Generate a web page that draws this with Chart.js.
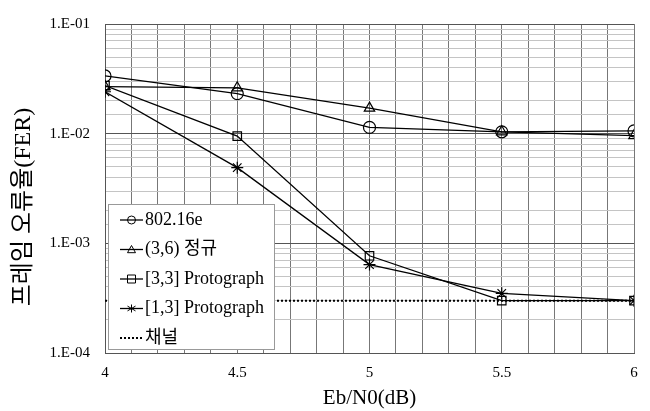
<!DOCTYPE html>
<html>
<head>
<meta charset="utf-8">
<script src="https://cdn.jsdelivr.net/npm/chart.js@4/dist/chart.umd.min.js"></script>
<style>
  html, body { margin: 0; padding: 0; background: #fff; }
  #box { width: 650px; height: 411px; }
</style>
</head>
<body>
<div id="box"><canvas id="myChart"></canvas></div>
<script>
const ebn0 = [4, 4.5, 5, 5.5, 6];
const fer80216e = [0.0336, 0.0232, 0.0114, 0.0104, 0.0106];
const ferRegular36 = [0.0269, 0.0262, 0.0171, 0.0104, 0.0096];
const ferProto33 = [0.0274, 0.0095, 0.00077, 0.00030, 0.00030];
const ferProto13 = [0.0241, 0.0049, 0.00064, 0.00035, 0.00030];
const ferChannel = [0.0003, 0.0003, 0.0003, 0.0003, 0.0003];
const seriesNames = ['802.16e', '(3,6) 정규', '[3,3] Protograph', '[1,3] Protograph', '채널'];
const yTitle = '프레임 오류율(FER)';

const FONT = "'Liberation Serif', 'Noto Sans CJK KR', serif";

function isDecade(v) {
  const e = Math.log10(v);
  return Math.abs(e - Math.round(e)) < 1e-9;
}

function toPoints(ys) {
  return ys.map((y, i) => ({ x: ebn0[i], y: y }));
}

// simple marker painter for the legend
function drawMarker(ctx, style, x, y, r) {
  ctx.beginPath();
  if (style === 'circle') {
    ctx.arc(x, y, r, 0, Math.PI * 2);
  } else if (style === 'triangle') {
    ctx.moveTo(x, y - r);
    ctx.lineTo(x + r, y + r * 0.8);
    ctx.lineTo(x - r, y + r * 0.8);
    ctx.closePath();
  } else if (style === 'rect') {
    ctx.rect(x - r, y - r, r * 2, r * 2);
  } else if (style === 'star') {
    ctx.moveTo(x, y - r); ctx.lineTo(x, y + r);
    ctx.moveTo(x - r, y - r * 0.6); ctx.lineTo(x + r, y + r * 0.6);
    ctx.moveTo(x - r, y + r * 0.6); ctx.lineTo(x + r, y - r * 0.6);
  }
  ctx.stroke();
}

const legendBox = {
  id: 'legendBox',
  afterDraw(chart) {
    const ctx = chart.ctx;
    const x0 = 108, y0 = 204, w = 166, h = 145;
    ctx.save();
    ctx.fillStyle = '#fff';
    ctx.fillRect(x0, y0, w, h);
    ctx.strokeStyle = '#999';
    ctx.lineWidth = 1;
    ctx.strokeRect(x0 + 0.5, y0 + 0.5, w, h);
    chart.data.datasets.forEach((ds, i) => {
      const cy = y0 + 16 + i * 29.5;
      ctx.strokeStyle = '#000';
      ctx.lineWidth = ds.borderWidth;
      ctx.setLineDash(ds.borderDash || []);
      ctx.beginPath();
      ctx.moveTo(x0 + 12, cy);
      ctx.lineTo(x0 + 35, cy);
      ctx.stroke();
      ctx.setLineDash([]);
      ctx.lineWidth = 1;
      if (ds.pointRadius > 0) drawMarker(ctx, ds.pointStyle, x0 + 23.5, cy, 4);
      ctx.fillStyle = '#000';
      ctx.font = '18px ' + FONT;
      ctx.textBaseline = 'middle';
      ctx.textAlign = 'left';
      ctx.fillText(ds.label, x0 + 37, cy);
    });

    // y axis title
    ctx.translate(24, 207);
    ctx.rotate(-Math.PI / 2);
    ctx.font = '24px ' + FONT;
    ctx.textAlign = 'center';
    ctx.textBaseline = 'middle';
    ctx.fillText(yTitle, 0, 0);
    ctx.restore();
  }
};

function lineSet(label, ys, style) {
  return {
    label: label,
    data: toPoints(ys),
    borderColor: '#000',
    borderWidth: 1.3,
    pointStyle: style,
    pointRadius: 6,
    pointHoverRadius: 6,
    pointBorderColor: '#000',
    pointBorderWidth: 1.2,
    pointBackgroundColor: 'rgba(0,0,0,0)',
    fill: false,
    tension: 0,
  };
}

const channelSet = {
  label: seriesNames[4],
  data: toPoints(ferChannel),
  borderColor: '#000',
  borderWidth: 2,
  borderDash: [2, 2],
  pointRadius: 0,
  fill: false,
};

new Chart(document.getElementById('myChart'), {
  type: 'line',
  data: {
    datasets: [
      lineSet(seriesNames[0], fer80216e, 'circle'),
      lineSet(seriesNames[1], ferRegular36, 'triangle'),
      lineSet(seriesNames[2], ferProto33, 'rect'),
      lineSet(seriesNames[3], ferProto13, 'star'),
      channelSet,
    ],
  },
  plugins: [legendBox],
  options: {
    responsive: true,
    maintainAspectRatio: false,
    animation: false,
    layout: { padding: { top: 13, right: 16, left: 0, bottom: 0 } },
    plugins: {
      legend: { display: false },
      tooltip: { enabled: false },
    },
    scales: {
      x: {
        type: 'linear',
        min: 4,
        max: 6,
        afterFit: scale => { scale.height = 58; },
        ticks: {
          stepSize: 0.1,
          autoSkip: false,
          maxRotation: 0,
          padding: 11,
          color: '#000',
          font: { family: FONT, size: 15 },
          callback: v => (Math.abs(v * 2 - Math.round(v * 2)) < 1e-6 ? String(Math.round(v * 10) / 10) : ''),
        },
        grid: { color: '#777', lineWidth: 1, drawTicks: false },
        border: { color: '#555' },
        title: {
          display: true,
          text: 'Eb/N0(dB)',
          color: '#000',
          font: { family: FONT, size: 21 },
          padding: { top: 0, bottom: 0 },
        },
      },
      y: {
        type: 'logarithmic',
        min: 1e-4,
        max: 1e-1,
        afterFit: scale => { scale.width = 105; },
        ticks: {
          autoSkip: false,
          padding: 15,
          color: '#000',
          font: { family: FONT, size: 15 },
          callback: v => (isDecade(v) ? '1.E-' + String(-Math.round(Math.log10(v))).padStart(2, '0') : ''),
        },
        grid: {
          drawTicks: false,
          lineWidth: 1,
          color: c => (c.tick && isDecade(c.tick.value) ? '#555' : '#c4c4c4'),
        },
        border: { color: '#555' },
      },
    },
  },
});
</script>
</body>
</html>
